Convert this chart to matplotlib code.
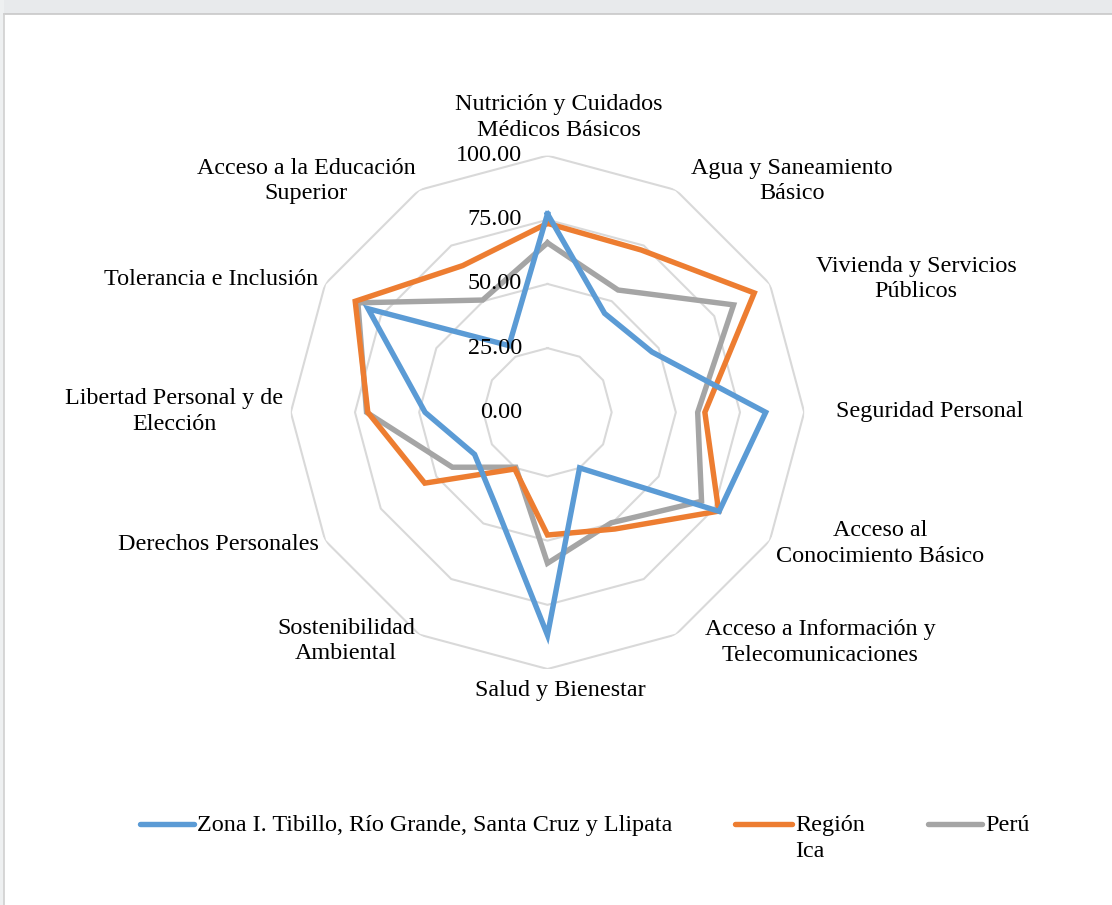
import numpy as np
import matplotlib.pyplot as plt
from matplotlib.lines import Line2D
from matplotlib.patches import Rectangle

plt.rcParams['font.family'] = ['Liberation Serif', 'DejaVu Serif']

# Dimensions of the index, clockwise from the top
categories = [
    "Nutrición y Cuidados\nMédicos Básicos",
    "Agua y Saneamiento\nBásico",
    "Vivienda y Servicios\nPúblicos",
    "Seguridad Personal",
    "Acceso al\nConocimiento Básico",
    "Acceso a Información y\nTelecomunicaciones",
    "Salud y Bienestar",
    "Sostenibilidad\nAmbiental",
    "Derechos Personales",
    "Libertad Personal y de\nElección",
    "Tolerancia e Inclusión",
    "Acceso a la Educación\nSuperior",
]

zona = [77.3, 44.5, 47.0, 85.0, 77.2, 25.0, 86.8, 41.0, 32.8, 47.7, 80.7, 30.0]
region_ica = [73.6, 73.0, 93.0, 61.3, 77.0, 52.5, 47.8, 25.5, 55.2, 70.0, 86.5, 66.0]
peru = [66.0, 55.0, 83.7, 58.5, 69.3, 49.7, 58.8, 24.7, 42.8, 70.5, 85.3, 50.5]

series_names = ["Zona I. Tibillo, Río Grande, Santa Cruz y Llipata", "Región\nIca", "Perú"]
colors = ["#5B9BD5", "#ED7D31", "#A5A5A5"]

ring_values = [0, 25, 50, 75, 100]
ring_labels = ["0.00", "25.00", "50.00", "75.00", "100.00"]

FS = 17.4
W, H = 1112, 905
fig = plt.figure(figsize=(W / 100, H / 100), dpi=100)

# light strip and frame at the top/left edge
fig.add_artist(Rectangle((0, 1 - 14 / H), 1, 14 / H, transform=fig.transFigure,
                         facecolor="#e8eaec", edgecolor="none"))
fig.add_artist(Rectangle((0, 0), 4 / W, 1, transform=fig.transFigure,
                         facecolor="#eef0f1", edgecolor="none"))
fig.add_artist(Line2D([4 / W, 1], [1 - 14 / H, 1 - 14 / H], transform=fig.transFigure,
                      color="#c8c8c8", lw=1.2))
fig.add_artist(Line2D([4 / W, 4 / W], [0, 1 - 14 / H], transform=fig.transFigure,
                      color="#d0d0d0", lw=1.2))

cx, cy, R = 547.5, 412.3, 256.7
ax = fig.add_axes([(cx - R) / W, 1 - (cy + R) / H, 2 * R / W, 2 * R / H], projection="polar")
ax.set_theta_zero_location("N")
ax.set_theta_direction(-1)
ax.set_ylim(0, 100)
ax.grid(False)
ax.spines["polar"].set_visible(False)
ax.set_xticks([])
ax.set_yticks([])
ax.patch.set_alpha(0)

n = len(categories)
theta = np.linspace(0, 2 * np.pi, n, endpoint=False)
theta_c = np.append(theta, theta[0])

# polygon rings
for rv in ring_values[1:]:
    ax.plot(theta_c, [rv] * (n + 1), color="#d9d9d9", lw=1.5, zorder=1)

for vals, col, z in zip([zona, region_ica, peru], colors, [5, 4, 3]):
    ax.plot(theta_c, vals + vals[:1], color=col, lw=3.9, zorder=z,
            solid_joinstyle="miter")

# radial value labels
for rv, lab in zip(ring_values, ring_labels):
    y = cy - rv / 100 * R
    fig.text(522 / W, 1 - y / H, lab, ha="right", va="center", fontsize=FS)

# category labels
label_pos = [(559, 117.5), (792, 181), (916, 279), (930, 411), (880, 543.5),
             (820, 642.5), (560, 690), (346, 641), (218, 545), (174, 411.5),
             (211, 279), (306, 181)]
for lab, (x, y) in zip(categories, label_pos):
    fig.text(x / W, 1 - y / H, lab, ha="center", va="center", fontsize=FS,
             linespacing=1.27)

# legend
leg_items = [(140, 197), (735, 795), (928, 985)]
for (x0, xt), name, col in zip(leg_items, series_names, colors):
    fig.add_artist(Line2D([x0 / W, (xt - 3) / W], [1 - 824 / H, 1 - 824 / H],
                          transform=fig.transFigure, color=col, lw=3.9,
                          solid_capstyle="round"))
    fig.text(xt / W, 1 - 815 / H, name, ha="left", va="top", fontsize=FS,
             linespacing=1.32)

fig.savefig("out.png", dpi=100)
